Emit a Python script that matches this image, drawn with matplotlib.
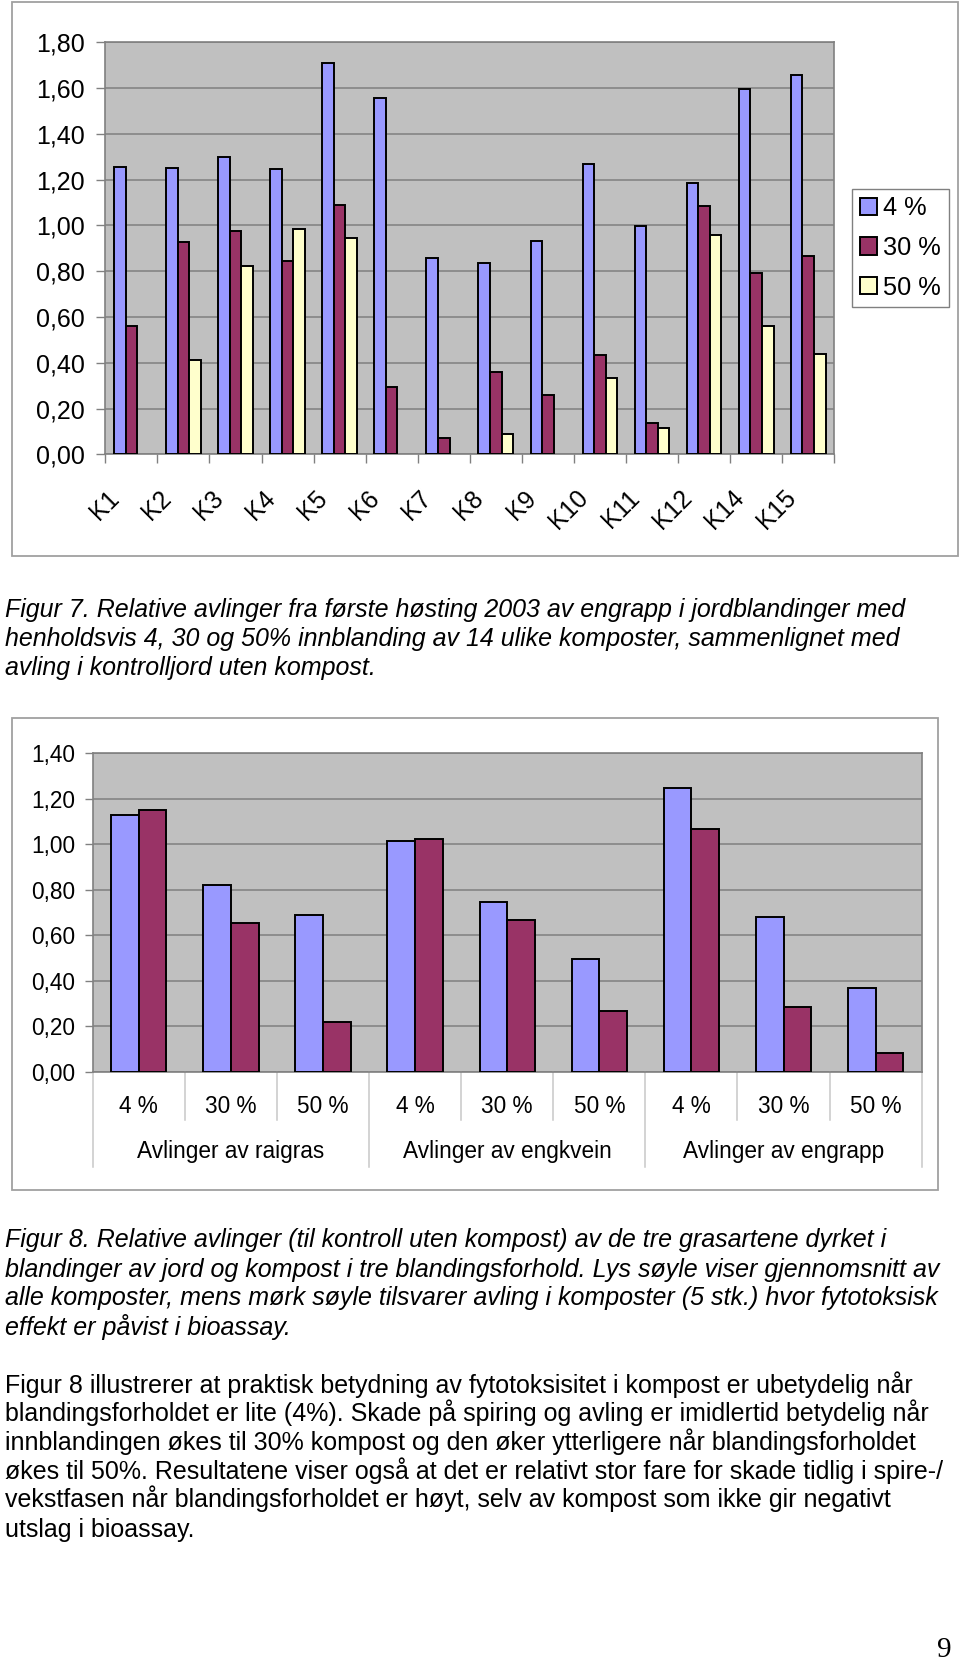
import matplotlib
matplotlib.use('Agg')
import matplotlib.pyplot as plt
import numpy as np
from matplotlib.patches import Rectangle, Patch
from matplotlib.lines import Line2D
from matplotlib.transforms import ScaledTranslation, blended_transform_factory
from matplotlib.ticker import FuncFormatter

plt.rcParams['font.family'] = ['Liberation Sans', 'DejaVu Sans']

# ---------------- data ----------------
composts = ['K1', 'K2', 'K3', 'K4', 'K5', 'K6', 'K7', 'K8', 'K9', 'K10',
            'K11', 'K12', 'K14', 'K15']
series_labels = ['4 %', '30 %', '50 %']
yield_4 = [1.257, 1.252, 1.298, 1.247, 1.711, 1.557, 0.857, 0.837, 0.934,
           1.267, 0.999, 1.187, 1.597, 1.659]
yield_30 = [0.562, 0.928, 0.974, 0.845, 1.089, 0.296, 0.073, 0.358, 0.260,
            0.432, 0.138, 1.086, 0.794, 0.866]
yield_50 = [np.nan, 0.411, 0.823, 0.986, 0.944, np.nan, np.nan, 0.089, np.nan,
            0.333, 0.114, 0.958, 0.562, 0.437]
y1_ticks = [0.0, 0.2, 0.4, 0.6, 0.8, 1.0, 1.2, 1.4, 1.6, 1.8]

mix_labels = ['4 %', '30 %', '50 %', '4 %', '30 %', '50 %', '4 %', '30 %', '50 %']
grass_groups = ['Avlinger av raigras', 'Avlinger av engkvein', 'Avlinger av engrapp']
avg_all = [1.127, 0.820, 0.691, 1.015, 0.744, 0.496, 1.247, 0.682, 0.366]
avg_toxic = [1.151, 0.653, 0.218, 1.024, 0.668, 0.269, 1.067, 0.285, 0.081]
y2_ticks = [0.0, 0.2, 0.4, 0.6, 0.8, 1.0, 1.2, 1.4]

caption7 = ["Figur 7. Relative avlinger fra første høsting 2003 av engrapp i jordblandinger med",
            "henholdsvis 4, 30 og 50% innblanding av 14 ulike komposter, sammenlignet med",
            "avling i kontrolljord uten kompost."]
caption8 = ["Figur 8. Relative avlinger (til kontroll uten kompost) av de tre grasartene dyrket i",
            "blandinger av jord og kompost i tre blandingsforhold. Lys søyle viser gjennomsnitt av",
            "alle komposter, mens mørk søyle tilsvarer avling i komposter (5 stk.) hvor fytotoksisk",
            "effekt er påvist i bioassay."]
paragraph = ["Figur 8 illustrerer at praktisk betydning av fytotoksisitet i kompost er ubetydelig når",
             "blandingsforholdet er lite (4%). Skade på spiring og avling er imidlertid betydelig når",
             "innblandingen økes til 30% kompost og den øker ytterligere når blandingsforholdet",
             "økes til 50%. Resultatene viser også at det er relativt stor fare for skade tidlig i spire-/",
             "vekstfasen når blandingsforholdet er høyt, selv av kompost som ikke gir negativt",
             "utslag i bioassay."]
page_number = "9"

# ---------------- style ----------------
C_BLUE = '#9999FF'
C_RED = '#993366'
C_YEL = '#FFFFCC'
C_PLOT = '#C0C0C0'
C_GRID = '#808080'
C_FRAME = '#A0A0A0'

W, H, DPI = 960, 1666, 100
fig = plt.figure(figsize=(W / DPI, H / DPI), dpi=DPI)


def fx(px):
    return px / W


def fy(py):
    return 1 - py / H


def comma_fmt(v, pos):
    return f"{v:.2f}".replace('.', ',')


def frame(x0, y0, x1, y1):
    fig.patches.append(Rectangle((fx(x0), fy(y1)), fx(x1) - fx(x0), fy(y0) - fy(y1),
                                 transform=fig.transFigure, fill=False,
                                 edgecolor=C_FRAME, lw=1.3))


# ---------------- chart 1 ----------------
frame(12.3, 2, 958.3, 556)
ax1 = fig.add_axes([fx(105.3), fy(454.3), fx(834.3) - fx(105.3), fy(42.3) - fy(454.3)])
ax1.set_facecolor(C_PLOT)
x = np.arange(len(composts))
bw = 1 / 4.5
for k, (vals, col) in enumerate(zip([yield_4, yield_30, yield_50], [C_BLUE, C_RED, C_YEL])):
    v = np.array(vals, dtype=float)
    m = np.isfinite(v)
    ax1.bar(x[m] + (k - 1) * bw, v[m], width=bw, color=col, edgecolor='black',
            linewidth=1.4, zorder=3)
ax1.set_xlim(-0.5, len(composts) - 0.5)
ax1.set_ylim(0, 1.8)
ax1.set_yticks(y1_ticks)
ax1.yaxis.set_major_formatter(FuncFormatter(comma_fmt))
ax1.yaxis.grid(True, color=C_GRID, lw=1.1)
ax1.set_axisbelow(True)
for s in ax1.spines.values():
    s.set_color(C_GRID)
    s.set_linewidth(1.2)
ax1.tick_params(axis='y', direction='out', length=6.3, width=1, color=C_GRID,
                labelsize=18, pad=8.4)
ax1.set_xticks(x)
ax1.set_xticklabels(composts, rotation=45, ha='right', va='center',
                    rotation_mode='anchor', fontsize=17.8)
ax1.tick_params(axis='x', which='major', length=0, pad=28.8)
ax1.set_xticks(np.arange(-0.5, len(composts), 1.0), minor=True)
ax1.tick_params(axis='x', which='minor', direction='out', length=6.5, width=1, color=C_GRID)
shift = ScaledTranslation(-16 / DPI, 0, fig.dpi_scale_trans)
for lab in ax1.get_xticklabels():
    lab.set_transform(lab.get_transform() + shift)

handles = [Patch(facecolor=c, edgecolor='black', linewidth=1.4) for c in [C_BLUE, C_RED, C_YEL]]
fig.legend(handles, series_labels, loc='upper left',
           bbox_to_anchor=(fx(852.3), fy(188.5)), borderaxespad=0,
           frameon=True, fancybox=False, edgecolor=C_GRID, framealpha=1,
           fontsize=18.3, handlelength=0.67, handleheight=0.67, handletextpad=0.25,
           borderpad=0.3, labelspacing=0.62)

# ---------------- chart 2 ----------------
frame(12.3, 718.3, 938.3, 1190)
ax2_top, ax2_bot = 753.3, 1071.7
ax2 = fig.add_axes([fx(92.7), fy(ax2_bot), fx(921.7) - fx(92.7), fy(ax2_top) - fy(ax2_bot)])
ax2.set_facecolor(C_PLOT)
x2 = np.arange(len(mix_labels))
bw2 = 0.3
ax2.bar(x2 - bw2 / 2, avg_all, width=bw2, color=C_BLUE, edgecolor='black', linewidth=1.4, zorder=3)
ax2.bar(x2 + bw2 / 2, avg_toxic, width=bw2, color=C_RED, edgecolor='black', linewidth=1.4, zorder=3)
ax2.set_xlim(-0.5, len(mix_labels) - 0.5)
ax2.set_ylim(0, 1.4)
ax2.set_yticks(y2_ticks)
ax2.yaxis.set_major_formatter(FuncFormatter(comma_fmt))
ax2.yaxis.grid(True, color=C_GRID, lw=1.1)
ax2.set_axisbelow(True)
for s in ax2.spines.values():
    s.set_color(C_GRID)
    s.set_linewidth(1.2)
ax2.tick_params(axis='y', direction='out', length=5.8, width=1, color=C_GRID,
                labelsize=16.3, pad=6.5)
ax2.set_xticks([])

ax2_h = ax2_bot - ax2_top
bt = blended_transform_factory(ax2.transData, ax2.transAxes)
for i, lab in enumerate(mix_labels):
    ax2.text(i, -34.5 / ax2_h, lab, transform=bt, ha='center', va='center',
             fontsize=16.3)
for g, lab in enumerate(grass_groups):
    ax2.text(g * 3 + 1, -79.5 / ax2_h, lab, transform=bt, ha='center', va='center',
             fontsize=16.3)
for b in np.arange(-0.5, len(mix_labels), 1.0):
    deep = (abs((b + 0.5) % 3) < 1e-9)
    depth = 95.0 if deep else 48.3
    ax2.add_line(Line2D([b, b], [0, -depth / ax2_h], transform=bt, color='#C8C8C8',
                        lw=1.1, clip_on=False))

# ---------------- text ----------------
def fit_size(line, target_px, **kw):
    t = fig.text(0, 0, line, fontsize=10, **kw)
    r = fig.canvas.get_renderer()
    wpx = t.get_window_extent(renderer=r).width
    t.remove()
    return 10 * target_px / wpx


s7 = fit_size(caption7[0], 905, style='italic')
for line, yb in zip(caption7, [617, 646, 675]):
    fig.text(fx(5), fy(yb), line, fontsize=s7, style='italic', va='baseline', ha='left')

s8 = fit_size(caption8[1], 940, style='italic')
for line, yb in zip(caption8, [1247, 1276.5, 1305.5, 1335]):
    fig.text(fx(5), fy(yb), line, fontsize=s8, style='italic', va='baseline', ha='left')

sp = fit_size(paragraph[1], 932)
for line, yb in zip(paragraph, [1392.5, 1421, 1450, 1478.5, 1507, 1536.5]):
    fig.text(fx(5), fy(yb), line, fontsize=sp, va='baseline', ha='left')

fig.text(fx(952), fy(1657), page_number, fontsize=21, family='Liberation Serif',
         ha='right', va='baseline')

fig.savefig('out.png', dpi=DPI)
